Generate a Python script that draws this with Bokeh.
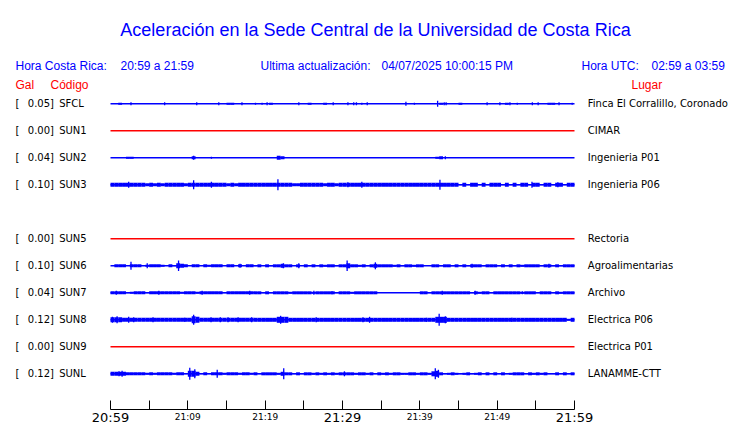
from bokeh.plotting import figure
from bokeh.models import Range1d, FixedTicker, LinearAxis, ColumnDataSource
from bokeh.core.properties import value
from bokeh.embed import file_html
from bokeh.resources import INLINE

# ---------------- data ----------------
title_text = "Aceleración en la Sede Central de la Universidad de Costa Rica"
hora_cr_label = "Hora Costa Rica:"
hora_cr = "20:59 a 21:59"
ultima_label = "Ultima actualización:"
ultima = "04/07/2025 10:00:15 PM"
hora_utc_label = "Hora UTC:"
hora_utc = "02:59 a 03:59"

tick_minutes = [0, 10, 20, 30, 40, 50, 60]
tick_labels = ["20:59", "21:09", "21:19", "21:29", "21:39", "21:49", "21:59"]
tick_big = [True, False, False, True, False, False, True]
minor_minutes = [5, 15, 25, 35, 45, 55]

stations = ["SFCL", "SUN1", "SUN2", "SUN3", "SUN5", "SUN6", "SUN7", "SUN8", "SUN9", "SUNL"]
slots = [0, 1, 2, 3, 5, 6, 7, 8, 9, 10]
gal = [0.05, 0.00, 0.04, 0.10, 0.00, 0.10, 0.04, 0.12, 0.00, 0.12]
places = ["Finca El Corralillo, Coronado", "CIMAR", "Ingenieria P01", "Ingenieria P06",
          "Rectoria", "Agroalimentarias", "Archivo", "Electrica P06", "Electrica P01",
          "LANAMME-CTT"]

# trace envelopes: half-height (px) per 30-second bin, 120 bins = 60 min
BIN_MIN = 0.5
env_SFCL = [0, 0, 1, 0, 0, 0, 0, 0, 0, 0, 0, 0, 0, 0, 0, 0, 0, 0, 0, 0,
            0, 0, 0, 0, 0, 0, 0, 0, 0, 0, 1, 1, 0, 0, 0, 0, 0, 0, 0, 0,
            0, 1, 0, 0, 0, 0, 0, 0, 0, 0, 0, 1, 0, 0, 0, 1, 0, 0, 0, 0,
            0, 0, 0, 0, 0, 0, 0, 0, 0, 0, 0, 0, 0, 0, 0, 0, 0, 0, 0, 0,
            0, 0, 0, 0, 0, 1, 0, 0, 0, 0, 1, 0, 0, 0, 0, 0, 0, 0, 0, 0,
            0, 0, 1, 0, 0, 0, 0, 0, 0, 0, 0, 0, 0, 1, 1, 0, 0, 0, 0, 0]
env_SUN2 = [0, 0, 0, 0, 1, 1, 0, 0, 0, 0, 0, 0, 0, 0, 0, 0, 0, 0, 0, 0,
            0, 1.5, 0, 0, 0, 0, 0, 0, 0, 0, 0, 0, 0, 0, 0, 0, 0, 0, 0, 0,
            0, 0, 0, 2, 1.5, 0, 0, 0, 0, 0, 0, 0, 0, 0, 0, 0, 0, 0, 0, 0,
            0, 0, 0, 0, 0, 0, 0, 0, 0, 0, 0, 0, 0, 0, 0, 0, 0, 0, 0, 0,
            0, 0, 0, 0, 1, 1.5, 0, 0, 0, 0, 0, 0, 0, 0, 0, 0, 0, 0, 0, 0,
            0, 0, 0, 0, 0, 0, 0, 0, 0, 0, 0, 0, 0, 0, 0, 0, 0, 0, 0, 0]
env_SUN3 = [2, 2, 2, 2, 2, 2, 2, 2, 2, 1.5, 2, 1.5, 2, 1.5, 2, 2, 2, 2, 2, 1.5,
            2, 2, 2, 2, 2, 2, 2, 2, 2, 2, 1.5, 2, 1.5, 2, 2, 2, 2, 2, 2, 2,
            2, 2, 2, 2, 2, 2, 2, 1.5, 1.5, 2, 2, 2, 2, 2, 2, 1.5, 2, 2, 1.5, 2,
            2, 2, 2, 2, 2, 2, 2, 2, 2, 2, 2, 2, 2, 2, 2, 2, 2, 2, 2, 2,
            2, 2, 2, 2, 2, 2, 2, 2, 2, 2, 0.5, 2, 0.5, 2, 2, 0.5, 2, 0.5, 2, 2,
            2, 0.5, 2, 0.5, 2, 0.5, 2, 2, 0.5, 2, 2, 0.5, 2, 2, 0.5, 2, 2, 0.5, 2, 2]
env_SUN6 = [0, 1.5, 1.5, 1.5, 0, 1.5, 1.5, 1.5, 0, 1, 1.5, 1.5, 1.5, 1, 0, 1.5, 0.5, 2.5, 2, 1.5,
            0, 1.5, 1.5, 0, 1.5, 1, 1.5, 1.5, 1.5, 0, 1.5, 1.5, 0, 1.5, 0, 1.5, 1.5, 0.5, 1.5, 0,
            1.5, 0.5, 1.5, 1.5, 2, 1.5, 1.5, 0, 1.5, 0, 1.5, 0.5, 1.5, 0.5, 1.5, 1, 1.5, 1.5, 0.5, 1.5,
            1.5, 2.5, 1.5, 1.5, 1, 1.5, 0.5, 1.5, 2, 1.5, 1.5, 1.5, 1.5, 1, 1.5, 0.5, 1.5, 1.5, 1, 1.5,
            1.5, 0, 0, 1.5, 1.5, 0.5, 1.5, 1.5, 0.5, 1.5, 0.5, 1.5, 0.5, 1.5, 1.5, 1.5, 0.5, 1.5, 1.5, 1.5,
            0.5, 1.5, 0.5, 1.5, 0.5, 1.5, 1, 1.5, 1.5, 1.5, 1.5, 0.5, 1.5, 1.5, 0.5, 1.5, 0.5, 1.5, 1.5, 1.5]
env_SUN7 = [1.5, 1.5, 1.5, 1.5, 0.5, 1, 1.5, 1.5, 1.5, 0.5, 1.5, 1.5, 1.5, 1.5, 1.5, 1.5, 1.5, 1.5, 1, 1.5,
            1.5, 1.5, 1, 1.5, 1.5, 1.5, 1.5, 1.5, 1.5, 0.5, 1.5, 1.5, 1.5, 1.5, 1.5, 1.5, 1.5, 1.5, 1.5, 0.5,
            1.5, 0.5, 1.5, 1.5, 1.5, 1.5, 1, 1.5, 1.5, 1.5, 1.5, 1.5, 1, 1.5, 1.5, 1.5, 1.5, 1.5, 0.5, 1.5,
            1.5, 1.5, 1, 1.5, 1.5, 1.5, 1.5, 1.5, 1.5, 0, 0, 0, 0, 0, 0, 0, 0, 0, 0, 0,
            1.5, 1.5, 0.5, 1.5, 1.5, 1.5, 1.5, 1.5, 1.5, 1.5, 1.5, 1.5, 1.5, 0.5, 1.5, 1, 1.5, 1.5, 0.5, 1.5,
            1.5, 1.5, 1.5, 1.5, 1.5, 1.5, 1, 1.5, 1.5, 1.5, 0.5, 1.5, 1.5, 1.5, 0.5, 1.5, 1, 1.5, 1.5, 1.5]
env_SUN8 = [2.5, 2.5, 2.5, 2, 2, 2, 2, 2, 2, 2, 2, 2, 2, 2, 2, 2, 2, 2, 2, 2,
            2, 3.5, 3, 2, 2, 2, 2, 2, 2, 2, 2, 2, 2, 2, 2, 2, 2, 2, 2, 2,
            2, 2, 2, 3, 3, 3, 2, 2, 2, 2, 2, 2, 2, 2, 2, 2, 2, 2, 2, 2,
            2, 2, 2, 2, 2, 2, 2, 2, 2, 2, 2, 2, 2, 2, 2, 2, 2, 2, 2, 2,
            2, 2, 2, 2, 3, 3, 3, 2, 2, 2, 2, 2, 2, 2, 2, 2, 2, 2, 2, 2,
            2, 2, 2, 2, 2, 2, 2, 2, 2, 2, 2, 2, 2, 2, 2, 2, 2, 2, 1, 2]
env_SUNL = [2, 2, 2, 2, 1.5, 1.5, 1.5, 1.5, 1.5, 1, 1.5, 1, 1.5, 1.5, 1.5, 1.5, 1, 1.5, 1.5, 0.5,
            3, 3, 2, 0.5, 1.5, 0.5, 1.5, 1.5, 1.5, 1, 1.5, 1.5, 1.5, 1, 1.5, 1.5, 1, 1.5, 0.5, 1.5,
            1.5, 1.5, 1.5, 1, 2, 1.5, 1.5, 0.5, 1.5, 0.5, 1.5, 1.5, 1, 1.5, 1, 1.5, 1, 1.5, 1, 1.5,
            1.5, 1.5, 1.5, 1, 1.5, 1.5, 1, 1.5, 0.5, 1.5, 1, 1.5, 1, 1.5, 1.5, 1, 1, 1.5, 1.5, 1,
            1.5, 1.5, 1, 2.5, 3, 1.5, 0.5, 1, 1.5, 1, 0.5, 1, 1.5, 0.5, 1, 1.5, 0.5, 1.5, 0.5, 1.5,
            0.5, 1.5, 0.5, 1, 1.5, 1.5, 1.5, 0.5, 1.5, 1, 1.5, 1, 1.5, 0.5, 0.5, 1.5, 0.5, 1.5, 0.5, 1.5]

# isolated peaks: time (min after 20:59), half-height (px)
spk_SFCL_t = [2.65, 7.0, 11.15, 14.0, 17.0, 18.75, 19.6, 20.25, 24.35, 28.8,
              30.7, 31.45, 31.8, 32.5, 33.2, 38.2, 39.3, 42.3, 43.15, 43.4,
              48.7, 50.35, 51.65, 52.6, 54.55, 55.3, 58.0, 59.7]
spk_SFCL_h = [1.5, 1.5, 1.5, 1.5, 1.5, 1, 1, 1.5, 1.5, 1.5,
              1.5, 1.5, 1.5, 1, 1.5, 2, 1, 3, 1.5, 1.5,
              1.5, 1.5, 1.5, 1, 1.5, 1.5, 1.5, 1]
spk_SUN2_t = [10.75, 13.05, 43.3]
spk_SUN2_h = [2, 1, 1.5]
spk_SUN3_t = [2.35, 10.75, 13.05, 21.65, 30.7, 32.5, 42.6, 54.5, 57.85]
spk_SUN3_h = [3, 4.5, 3, 5.5, 2.5, 3, 5, 3, 2.5]
spk_SUN6_t = [2.65, 4.75, 8.8, 16.75, 22.35, 24.35, 30.6, 34.25, 46.75, 56.7]
spk_SUN6_h = [4, 2.5, 5.3, 2, 2.5, 2.5, 5.3, 3.5, 2, 2]
spk_SUN7_t = [0.75, 6.25, 11.85, 18.0, 26.3, 28.65, 42.9, 47.15, 53.25]
spk_SUN7_h = [2, 2, 2, 2, 2, 1.5, 2, 2, 1.5]
spk_SUN8_t = [0.25, 0.85, 2.35, 3.0, 5.5, 9.6, 10.75, 13.0, 14.2, 15.2,
              16.5, 18.25, 22.0, 26.6, 32.65, 33.5, 40.85, 42.5, 43.3, 51.9]
spk_SUN8_h = [3, 3.5, 3, 2.5, 2.5, 2, 5, 2.5, 2.5, 2.5,
              2.5, 2.5, 4, 2.5, 2.5, 3, 2, 6, 3.5, 2]
spk_SUNL_t = [1.1, 1.5, 10.25, 10.9, 13.8, 22.4, 30.25, 42.0, 42.4]
spk_SUNL_h = [2.5, 3, 6, 4.5, 4, 5.5, 2.5, 5.5, 4]

traces = {
    "SFCL": (env_SFCL, spk_SFCL_t, spk_SFCL_h),
    "SUN2": (env_SUN2, spk_SUN2_t, spk_SUN2_h),
    "SUN3": (env_SUN3, spk_SUN3_t, spk_SUN3_h),
    "SUN6": (env_SUN6, spk_SUN6_t, spk_SUN6_h),
    "SUN7": (env_SUN7, spk_SUN7_t, spk_SUN7_h),
    "SUN8": (env_SUN8, spk_SUN8_t, spk_SUN8_h),
    "SUNL": (env_SUNL, spk_SUNL_t, spk_SUNL_h),
}

# ---------------- layout helpers (canvas pixels -> data) ----------------
W, H = 740, 423
AXIS_PX = 409.3           # canvas y of the time axis line
PPM = 464 / 60.0          # pixels per minute
X0_PX = 110               # canvas x of first tick
ROW0_PX = 103.3           # canvas y of first trace
ROW_PX = 27.0             # pixels between traces


def px_x(px):
    return (px - X0_PX) / PPM


def px_y(py):
    return (py - ROW0_PX) / ROW_PX


BLUE = "#0000ff"
RED = "#ff0000"

p = figure(width=W, height=H, title=None, toolbar_location=None, output_backend="svg",
           x_range=Range1d(px_x(0), px_x(W)),
           y_range=Range1d(px_y(H), px_y(0)),
           y_axis_location=None,
           min_border_left=0, min_border_right=0, min_border_top=0, min_border_bottom=0)
p.xgrid.visible = False
p.ygrid.visible = False
p.outline_line_color = None
p.background_fill_color = "white"
p.border_fill_color = "white"

t_start, t_end = tick_minutes[0], tick_minutes[-1]

# baselines
colors = [BLUE if g > 0 else RED for g in gal]
base_src = ColumnDataSource(dict(x0=[t_start] * len(stations), x1=[t_end] * len(stations),
                                 y=slots, color=colors))
p.segment(x0="x0", x1="x1", y0="y", y1="y", color="color", line_width=1.4, source=base_src)

# envelopes and peaks
ql, qr, qt, qb = [], [], [], []
sx, sy0, sy1 = [], [], []
for st, slot in zip(stations, slots):
    if st not in traces:
        continue
    env, tt, hh = traces[st]
    for i, h in enumerate(env):
        if h > 0:
            ql.append(i * BIN_MIN)
            qr.append((i + 1) * BIN_MIN)
            qt.append(slot - h / ROW_PX)
            qb.append(slot + h / ROW_PX)
    for t, h in zip(tt, hh):
        sx.append(t)
        sy0.append(slot - h / ROW_PX)
        sy1.append(slot + h / ROW_PX)

p.quad(left=ql, right=qr, top=qt, bottom=qb, fill_color=BLUE, line_color=None)
p.segment(x0=sx, x1=sx, y0=sy0, y1=sy1, color=BLUE, line_width=1.3)


# ---------------- texts ----------------
def txt(px, py, s, font="Liberation Sans", size="12px", color=BLUE, align="left",
        baseline="alphabetic"):
    p.text(x=[px_x(px)], y=[px_y(py)], text=[s], text_font=value(font),
           text_font_size=value(size), text_color=color, text_align=align,
           text_baseline=baseline)


txt(375, 29.3, title_text, size="18px", align="center")
txt(15, 65, hora_cr_label)
txt(120, 65, hora_cr)
txt(260, 65, ultima_label)
txt(381, 65, ultima)
txt(581, 65, hora_utc_label)
txt(651, 65, hora_utc)
txt(15, 84, "Gal", color=RED)
txt(50, 84, "Código", color=RED)
txt(631, 84, "Lugar", color=RED)

row_src = ColumnDataSource(dict(
    y=slots,
    br=["["] * len(stations),
    val=["%.2f]" % g for g in gal],
    code=stations,
    place=places,
))
for col, px in (("br", 15), ("val", 27.3), ("code", 58.7), ("place", 587.3)):
    p.text(x=px_x(px), y="y", text=col, source=row_src, text_font=value("DejaVu Sans"),
           text_font_size=value("10px"), text_color="black", text_align="left",
           text_baseline="middle")

# ---------------- time axis (drawn at a fixed height inside the canvas) ----------------
axis_y = px_y(AXIS_PX)

ax = p.xaxis[0]
ax.fixed_location = axis_y
ax.ticker = FixedTicker(ticks=tick_minutes, minor_ticks=minor_minutes)
ax.bounds = (t_start, t_end)
ax.axis_line_color = "black"
ax.axis_line_width = 1
ax.major_tick_in = 9
ax.major_tick_out = 0
ax.minor_tick_in = 9
ax.minor_tick_out = 0
ax.major_tick_line_color = "black"
ax.minor_tick_line_color = "black"
ax.major_label_overrides = {m: ("" if b else l)
                            for m, l, b in zip(tick_minutes, tick_labels, tick_big)}
ax.major_label_text_font = "DejaVu Sans"
ax.major_label_text_font_size = "9px"
ax.major_label_text_color = "black"
ax.major_label_standoff = 2

# second axis at the same height: only the large labels
big_ticks = [m for m, b in zip(tick_minutes, tick_big) if b]
ax2 = LinearAxis(fixed_location=axis_y, ticker=FixedTicker(ticks=big_ticks),
                 major_label_overrides={m: l for m, l, b in
                                        zip(tick_minutes, tick_labels, tick_big) if b},
                 axis_line_color=None, major_tick_line_color=None,
                 minor_tick_line_color=None, major_tick_in=0, major_tick_out=0,
                 minor_tick_in=0, minor_tick_out=0,
                 major_label_text_font="DejaVu Sans", major_label_text_font_size="13px",
                 major_label_text_color="black", major_label_standoff=0)
p.add_layout(ax2, "below")

open("out.html", "w").write(file_html(p, INLINE))
